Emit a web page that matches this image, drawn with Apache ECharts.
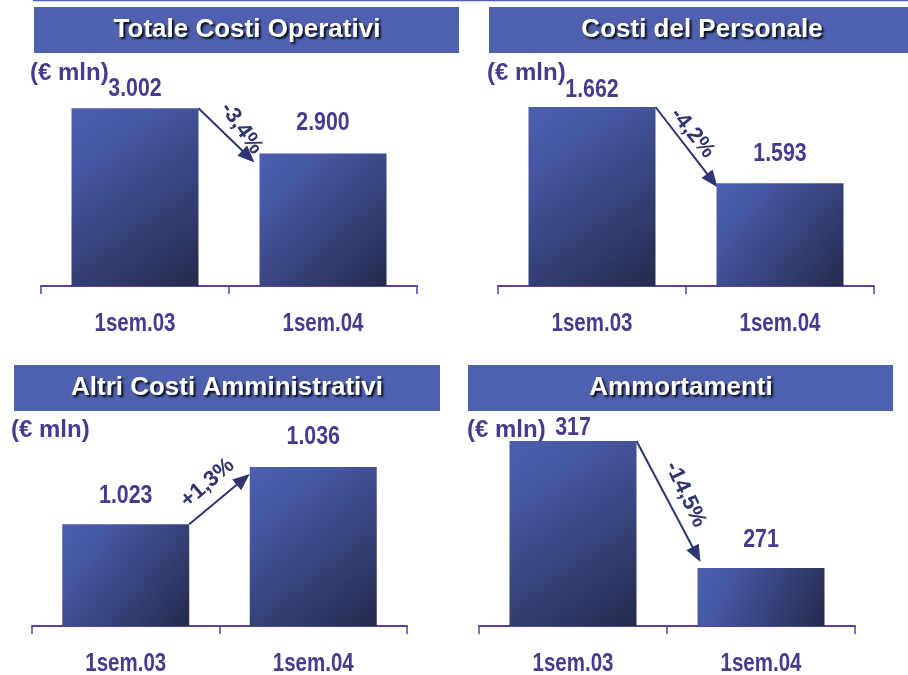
<!DOCTYPE html>
<html>
<head>
<meta charset="utf-8">
<script src="https://cdn.jsdelivr.net/npm/echarts@6/dist/echarts.min.js"></script>
<style>
html,body{margin:0;padding:0;background:#fff;}
#chart{width:908px;height:675px;}
</style>
</head>
<body>
<div id="chart"></div>
<script>
// ---- data ----
const categories = ['1sem.03', '1sem.04'];
const panelTitles = ['Totale Costi Operativi', 'Costi del Personale', 'Altri Costi Amministrativi', 'Ammortamenti'];
const valuesTotale = [3002, 2900];
const valuesPersonale = [1662, 1593];
const valuesAltri = [1023, 1036];
const valuesAmmortamenti = [317, 271];
const changeLabels = ['-3,4%', '-4,2%', '+1,3%', '-14,5%'];
const axisMin = [2600, 1500, 1000, 250];
const axisMax = [3100, 1700, 1050, 330];
const unitLabel = '(€ mln)';

const seriesValues = [valuesTotale, valuesPersonale, valuesAltri, valuesAmmortamenti];

// ---- layout / style ----
const layout = [
  {grid:{left:41, top:65, width:376, height:221}, title:{x:34, y:7, w:425, h:46, cx:247}, unit:{x:30, y:73}, labelUp:[19,31], arrowEnd:[-5,9], textOff:[15,-7], textAngle:55},
  {grid:{left:498, top:65, width:376, height:221}, title:{x:489, y:7, w:430, h:46, cx:702}, unit:{x:487, y:73}, labelUp:[17,29], arrowEnd:[1,4], textOff:[6,-14], textAngle:51},
  {grid:{left:32, top:405, width:375, height:221}, title:{x:14, y:365, w:426, h:46, cx:227}, unit:{x:11, y:430}, labelUp:[29,30], arrowEnd:[0,7], textOff:[-12,-16], textAngle:-41},
  {grid:{left:479, top:405, width:376, height:221}, title:{x:468, y:365, w:425, h:46, cx:681}, unit:{x:467, y:430}, labelUp:[13,28], arrowEnd:[3,-6], textOff:[17,-7], textAngle:65}
];
const BAR_W = 127;
const SANS = "'Liberation Sans', Arial, Helvetica, sans-serif";
const NARROW_SCALE = 0.82;
const PURPLE = '#4a3a8f';
const NAVY = '#2e3570';
const AXIS_COLOR = '#5c3f9e';
const TITLE_BG = '#4e60ae';

const fmtIt = v => v >= 1000 ? Math.floor(v / 1000) + '.' + String(v % 1000).padStart(3, '0') : String(v);

const barColor = new echarts.graphic.LinearGradient(0, 0, 1, 1, [
  {offset: 0, color: '#4b5fae'},
  {offset: 0.25, color: '#4657a2'},
  {offset: 1, color: '#242a4c'}
]);

const grids = [], xAxes = [], yAxes = [], series = [], graphics = [];

graphics.push({type:'line', shape:{x1:33, y1:0.5, x2:908, y2:0.5}, style:{stroke:TITLE_BG, lineWidth:1.5}});

layout.forEach((L, i) => {
  grids.push(Object.assign({outerBoundsMode:'none', containLabel:false}, L.grid));
  xAxes.push({
    type:'category', gridIndex:i, data:categories, boundaryGap:true,
    axisLine:{show:true, lineStyle:{color:AXIS_COLOR, width:2}},
    axisTick:{show:true, length:8, interval:0, lineStyle:{color:AXIS_COLOR, width:1.5}},
    axisLabel:{show:false}
  });
  yAxes.push({type:'value', gridIndex:i, min:axisMin[i], max:axisMax[i], show:false, splitLine:{show:false}});
  const vals = seriesValues[i];
  series.push({
    type:'bar', xAxisIndex:i, yAxisIndex:i, barWidth:BAR_W,
    itemStyle:{color:barColor},
    data: vals.slice(),
    emphasis:{disabled:true}, silent:true, animation:false
  });
  // value labels + category labels (narrow bold text)
  series.push({
    type:'custom', xAxisIndex:i, yAxisIndex:i, silent:true, animation:false, clip:false,
    data: vals.map((v, j) => [j, v]),
    renderItem:(params, api) => {
      const j = api.value(0);
      const top = api.coord([j, api.value(1)]);
      const base = api.coord([j, axisMin[i]]);
      return {type:'group', children:[
        {type:'text', x:top[0], y:top[1] - L.labelUp[j], scaleX:NARROW_SCALE,
          style:{text:fmtIt(vals[j]), fill:PURPLE, fontSize:26, fontWeight:'bold', fontFamily:SANS, align:'center', verticalAlign:'middle'}},
        {type:'text', x:base[0], y:base[1] + 38, scaleX:NARROW_SCALE,
          style:{text:categories[j], fill:PURPLE, fontSize:25, fontWeight:'bold', fontFamily:SANS, align:'center', verticalAlign:'middle'}}
      ]};
    }
  });
  // change arrow
  series.push({
    type:'custom', xAxisIndex:i, yAxisIndex:i, silent:true, animation:false, clip:false,
    data:[[0, vals[0], vals[1]]],
    renderItem:(params, api) => {
      const p0 = api.coord([0, api.value(1)]);
      const p1 = api.coord([1, api.value(2)]);
      const sx = p0[0] + BAR_W / 2, sy = p0[1];
      const ex = p1[0] - BAR_W / 2 + L.arrowEnd[0], ey = p1[1] + L.arrowEnd[1];
      const dx = ex - sx, dy = ey - sy, len = Math.sqrt(dx*dx + dy*dy);
      const ux = dx / len, uy = dy / len;
      const hl = 17, hw = 7;
      const bx = ex - ux * hl, by = ey - uy * hl;
      const mx = (sx + ex) / 2 + L.textOff[0], my = (sy + ey) / 2 + L.textOff[1];
      return {type:'group', children:[
        {type:'line', shape:{x1:sx, y1:sy, x2:bx + ux*2, y2:by + uy*2}, style:{stroke:NAVY, lineWidth:2}},
        {type:'polygon', shape:{points:[[ex, ey], [bx - uy*hw, by + ux*hw], [bx + uy*hw, by - ux*hw]]}, style:{fill:NAVY}},
        {type:'text', x:mx, y:my, rotation:-L.textAngle * Math.PI / 180,
          style:{text:changeLabels[i], fill:NAVY, fontSize:22, fontWeight:'bold', fontFamily:SANS, align:'center', verticalAlign:'middle'}}
      ]};
    }
  });
  graphics.push({type:'rect', shape:{x:L.title.x, y:L.title.y, width:L.title.w, height:L.title.h}, style:{fill:TITLE_BG}});
  graphics.push({type:'text', x:L.title.cx, y:L.title.y + L.title.h / 2,
    style:{text:panelTitles[i], fill:'#ffffff', fontSize:26, fontWeight:'bold', fontFamily:SANS, align:'center', verticalAlign:'middle',
      textShadowColor:'rgba(0,0,0,0.85)', textShadowOffsetX:2, textShadowOffsetY:2, textShadowBlur:2}});
  graphics.push({type:'text', x:L.unit.x, y:L.unit.y,
    style:{text:unitLabel, fill:PURPLE, fontSize:24, fontWeight:'bold', fontFamily:SANS, align:'left', verticalAlign:'middle'}});
});

const chart = echarts.init(document.getElementById('chart'), null, {renderer:'canvas'});
chart.setOption({
  animation:false,
  backgroundColor:'#ffffff',
  grid:grids, xAxis:xAxes, yAxis:yAxes, series:series,
  graphic:graphics
});
</script>
</body>
</html>
